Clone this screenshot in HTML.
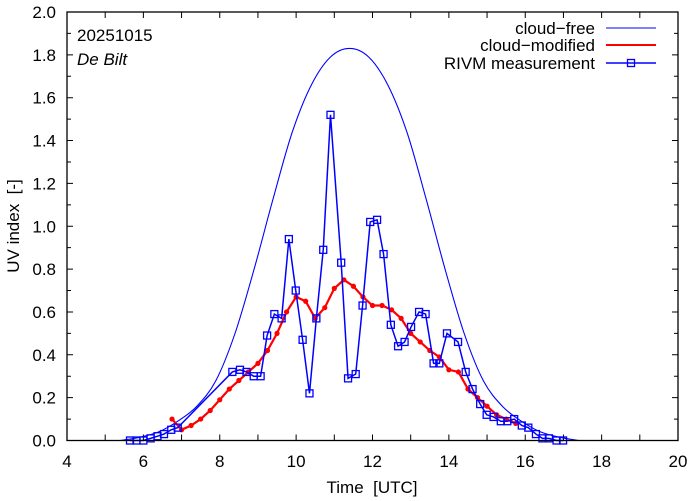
<!DOCTYPE html>
<html><head><meta charset="utf-8"><style>
html,body{margin:0;padding:0;background:#fff;}
svg{display:block;font-family:"Liberation Sans",sans-serif;}
</style></head><body>
<svg id="chart" width="694" height="501" viewBox="0 0 694 501" xmlns="http://www.w3.org/2000/svg">
<rect x="0" y="0" width="694" height="501" fill="#fff"/>
<g id="grid-ticks"></g>
<g id="series"></g>
<rect x="67" y="12" width="611" height="428.5" fill="none" stroke="#000" stroke-width="1.3"/>
<text x="77" y="41" font-size="17">20251015</text>
<text x="77" y="65" font-size="17" font-style="italic">De Bilt</text>
<g font-size="17" text-anchor="end">
<g><text x="595" y="34">cloud−free</text><line x1="606" y1="28" x2="656" y2="28" stroke="#0000ff" stroke-width="1"/></g>
<g><text x="595" y="51">cloud−modified</text><line x1="606" y1="45" x2="656" y2="45" stroke="#ff0000" stroke-width="2"/></g>
<g><text x="595" y="69">RIVM measurement</text><line x1="606" y1="63" x2="656" y2="63" stroke="#0000ff" stroke-width="1.5"/><rect x="627.5" y="59.5" width="7" height="7" fill="none" stroke="#0000ff" stroke-width="1.3"/></g>
</g>
<text x="372" y="493" font-size="17" text-anchor="middle">Time&#160;&#160;[UTC]</text>
<text x="0" y="0" font-size="17" text-anchor="middle" transform="translate(19,226) rotate(-90)">UV index&#160;&#160;[-]</text>
</svg>
<script>
const xTicks=[4,6,8,10,12,14,16,18,20];
const yTicks=[0,0.2,0.4,0.6,0.8,1.0,1.2,1.4,1.6,1.8,2.0];
const clearTimes=[5.4,5.9,6.4,6.9,7.4,7.9,8.4,8.9,9.4,9.9,10.4,10.9,11.4,11.9,12.4,12.9,13.4,13.9,14.4,14.9,15.4,15.9,16.4,16.9,17.4];
const clearValues=[0,0.015,0.04,0.09,0.16,0.28,0.50,0.80,1.13,1.44,1.66,1.79,1.83,1.79,1.66,1.44,1.13,0.80,0.50,0.28,0.16,0.09,0.04,0.015,0];
const modTimes=[6.75,7.0,7.25,7.5,7.75,8.0,8.25,8.5,8.75,9.0,9.25,9.5,9.75,10.0,10.25,10.5,10.75,11.0,11.25,11.5,11.75,12.0,12.25,12.5,12.75,13.0,13.25,13.5,13.75,14.0,14.25,14.5,14.75,15.0,15.25,15.5,15.75];
const modValues=[0.10,0.05,0.07,0.10,0.14,0.19,0.24,0.28,0.32,0.36,0.42,0.50,0.60,0.67,0.65,0.57,0.62,0.71,0.75,0.72,0.67,0.63,0.63,0.61,0.57,0.50,0.46,0.42,0.39,0.33,0.32,0.24,0.20,0.16,0.12,0.10,0.08];
const measTimes=[5.65,5.82,6.0,6.19,6.37,6.54,6.73,6.9,8.33,8.53,8.7,8.89,9.07,9.24,9.43,9.62,9.81,9.99,10.17,10.35,10.53,10.71,10.9,11.18,11.36,11.56,11.74,11.94,12.12,12.29,12.48,12.67,12.84,13.01,13.22,13.39,13.6,13.75,13.95,14.24,14.44,14.62,14.82,14.99,15.17,15.36,15.53,15.71,15.91,16.08,16.28,16.45,16.62,16.82,16.99];
const measValues=[0,0,0,0.01,0.02,0.03,0.05,0.06,0.32,0.33,0.32,0.30,0.30,0.49,0.59,0.57,0.94,0.70,0.47,0.22,0.57,0.89,1.52,0.83,0.29,0.31,0.63,1.02,1.03,0.87,0.54,0.44,0.46,0.53,0.60,0.59,0.36,0.36,0.50,0.46,0.32,0.24,0.17,0.12,0.11,0.09,0.09,0.10,0.07,0.06,0.03,0.01,0.01,0,0];

const NS="http://www.w3.org/2000/svg";
const X0=67,X1=678,Y0=440.5,Y1=12;
function xs(h){return X0+(h-4)/16*(X1-X0);}
function ys(v){return Y0-v/2*(Y0-Y1);}
function mk(tag,attrs,parent){const e=document.createElementNS(NS,tag);for(const k in attrs)e.setAttribute(k,attrs[k]);parent.appendChild(e);return e;}
const tg=document.getElementById('grid-ticks');
for(let h=4;h<=20;h+=1){
  const x=xs(h);
  const t=mk('path',{d:`M${x},${Y0}v-6M${x},${Y1}v6`,stroke:'#000','stroke-width':1},tg);
  
  
}
xTicks.forEach(h=>{
  const t=mk('text',{x:xs(h),y:467,'font-size':17,'text-anchor':'middle'},tg);
  t.textContent=String(h);
  
  
});
for(let i=0;i<=20;i++){
  const v=i*0.1;const y=ys(v);const len=(i%2===0)?6:4;
  const t=mk('path',{d:`M${X0},${y}h${len}M${X1},${y}h-${len}`,stroke:'#000','stroke-width':1},tg);
  
  
}
yTicks.forEach(v=>{
  const t=mk('text',{x:56,y:ys(v)+6,'font-size':17,'text-anchor':'end'},tg);
  t.textContent=v.toFixed(1);
  
  
});
const sg=document.getElementById('series');
function smooth(px){let d=`M${px[0][0]},${px[0][1]}`;for(let i=0;i<px.length-1;i++){const p0=px[i-1]||px[i],p1=px[i],p2=px[i+1],p3=px[i+2]||px[i+1];
 d+=`C${p1[0]+(p2[0]-p0[0])/6},${p1[1]+(p2[1]-p0[1])/6} ${p2[0]-(p3[0]-p1[0])/6},${p2[1]-(p3[1]-p1[1])/6} ${p2[0]},${p2[1]}`;}return d;}
const cf=mk('path',{d:smooth(clearTimes.map((t,i)=>[xs(t),ys(clearValues[i])])),fill:'none',stroke:'#0000ff','stroke-width':1.1},sg);


const cm=mk('polyline',{points:modTimes.map((t,i)=>xs(t)+','+ys(modValues[i])).join(' '),fill:'none',stroke:'#ff0000','stroke-width':2.2},sg);


modTimes.forEach((t,i)=>{
  const c=mk('circle',{cx:xs(t),cy:ys(modValues[i]),r:2.6,fill:'#ff0000'},sg);
  
  
});
const ml=mk('polyline',{points:measTimes.map((t,i)=>xs(t)+','+ys(measValues[i])).join(' '),fill:'none',stroke:'#0000ff','stroke-width':1.5},sg);


measTimes.forEach((t,i)=>{
  const r=mk('rect',{x:xs(t)-3.5,y:ys(measValues[i])-3.5,width:7,height:7,fill:'none',stroke:'#0000ff','stroke-width':1.3},sg);
  
  
});
</script>
</body></html>
